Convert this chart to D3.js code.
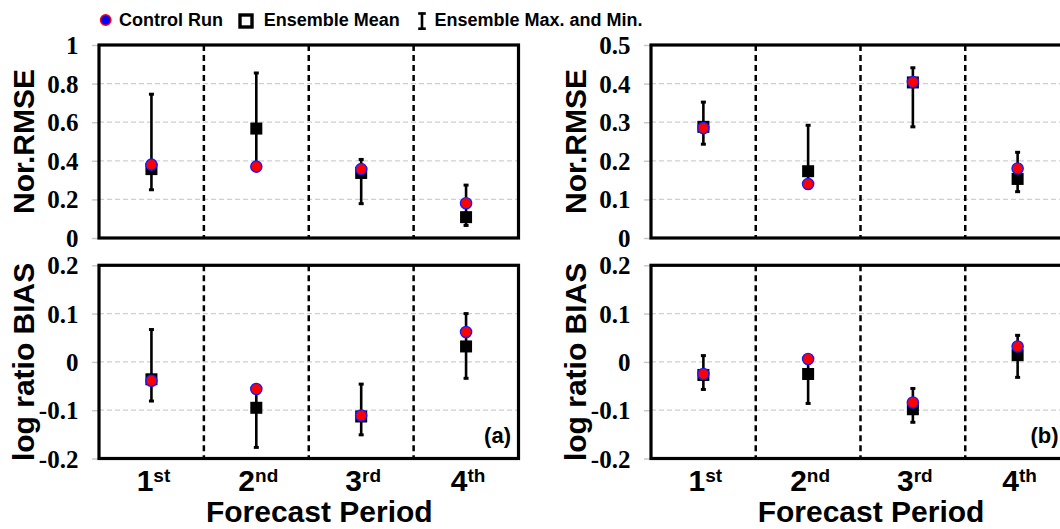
<!DOCTYPE html>
<html>
<head>
<meta charset="utf-8">
<script src="https://cdn.jsdelivr.net/npm/d3@7"></script>
<style>
  html, body { margin: 0; padding: 0; background: #fff; }
  svg { display: block; }
  .sans { font-family: "Liberation Sans", Arial, sans-serif; font-weight: bold; }
  .serif { font-family: "Liberation Serif", "Times New Roman", serif; font-weight: bold; }
</style>
</head>
<body>
<svg id="chart" width="1060" height="529"></svg>
<script>
// Forecast periods (x categories) and their ordinal suffixes
const periods = ["1", "2", "3", "4"];
const suffixes = ["st", "nd", "rd", "th"];

// Y tick labels
const rmseTicksA = [0, 0.2, 0.4, 0.6, 0.8, 1];
const rmseTicksB = [0, 0.1, 0.2, 0.3, 0.4, 0.5];
const biasTicks = [-0.2, -0.1, 0, 0.1, 0.2];

// (a) Normalised RMSE
const rmseA_control = [0.380, 0.370, 0.357, 0.180];
const rmseA_mean    = [0.357, 0.567, 0.337, 0.108];
const rmseA_max     = [0.745, 0.855, 0.407, 0.274];
const rmseA_min     = [0.250, 0.360, 0.178, 0.065];

// (a) log ratio BIAS
const biasA_control = [-0.039, -0.056, -0.111, 0.062];
const biasA_mean    = [-0.036, -0.095, -0.113, 0.032];
const biasA_max     = [0.067, -0.055, -0.046, 0.100];
const biasA_min     = [-0.081, -0.177, -0.151, -0.034];

// (b) Normalised RMSE
const rmseB_control = [0.285, 0.140, 0.404, 0.180];
const rmseB_mean    = [0.288, 0.173, 0.403, 0.153];
const rmseB_max     = [0.352, 0.292, 0.441, 0.222];
const rmseB_min     = [0.243, 0.150, 0.288, 0.120];

// (b) log ratio BIAS
const biasB_control = [-0.025, 0.006, -0.084, 0.032];
const biasB_mean    = [-0.027, -0.025, -0.098, 0.014];
const biasB_max     = [0.013, 0.012, -0.055, 0.055];
const biasB_min     = [-0.057, -0.086, -0.125, -0.032];

const svg = d3.select("#chart");

const cols = [{ left: 99, right: 518.5 }, { left: 651, right: 1070 }];
const rows = [{ top: 45, bottom: 238 }, { top: 265.3, bottom: 458.5 }];

function fmt(d) { return String(d); }

function panel(col, row, domain, ticks, title, control, mean, max, min, tag, tagRight, showX) {
  const x = d3.scaleBand().domain(periods).range([col.left, col.right]).padding(0);
  const y = d3.scaleLinear().domain(domain).range([row.bottom, row.top]);
  const cx = d => x(d) + x.bandwidth() / 2;
  const g = svg.append("g");

  // light dashed gridlines
  g.append("g").selectAll("line").data(ticks.slice(1, -1)).join("line")
    .attr("x1", col.left).attr("x2", col.right)
    .attr("y1", d => y(d)).attr("y2", d => y(d))
    .attr("stroke", "#cfcfcf").attr("stroke-width", 1.2).attr("stroke-dasharray", "5,3");

  // y axis: gray ticks and serif labels
  const ax = g.append("g").attr("transform", `translate(${col.left},0)`)
    .call(d3.axisLeft(y).tickValues(ticks).tickFormat(fmt).tickSize(7).tickPadding(13.6));
  ax.select(".domain").remove();
  ax.selectAll(".tick line").attr("stroke", "#c8c8c8").attr("stroke-width", 1.5);
  ax.selectAll(".tick text").attr("class", "serif").attr("font-size", 25).attr("fill", "#000")
    .attr("dy", "0.34em");

  // dashed dividers between periods
  g.append("g").selectAll("line").data(periods.slice(1)).join("line")
    .attr("x1", d => x(d)).attr("x2", d => x(d))
    .attr("y1", row.top).attr("y2", row.bottom)
    .attr("stroke", "#000").attr("stroke-width", 2.5).attr("stroke-dasharray", "6,4");

  // frame
  g.append("rect").attr("x", col.left).attr("y", row.top)
    .attr("width", col.right - col.left).attr("height", row.bottom - row.top)
    .attr("fill", "none").attr("stroke", "#000").attr("stroke-width", 3.2);

  // ensemble max/min bars
  const bars = g.append("g");
  bars.selectAll("line.bar").data(periods).join("line").attr("class", "bar")
    .attr("x1", cx).attr("x2", cx)
    .attr("y1", (d, i) => y(max[i])).attr("y2", (d, i) => y(min[i]))
    .attr("stroke", "#000").attr("stroke-width", 2.6);
  [max, min].forEach(arr => {
    bars.append("g").selectAll("line").data(periods).join("line")
      .attr("x1", d => cx(d) - 2.5).attr("x2", d => cx(d) + 2.5)
      .attr("y1", (d, i) => y(arr[i])).attr("y2", (d, i) => y(arr[i]))
      .attr("stroke", "#000").attr("stroke-width", 3);
  });

  // ensemble mean squares
  const s = 12;
  g.append("g").selectAll("rect").data(periods).join("rect")
    .attr("x", d => cx(d) - s / 2).attr("y", (d, i) => y(mean[i]) - s / 2)
    .attr("width", s).attr("height", s).attr("fill", "#000");

  // control run circles
  g.append("g").selectAll("circle").data(periods).join("circle")
    .attr("cx", cx).attr("cy", (d, i) => y(control[i])).attr("r", 5.6)
    .attr("fill", "#ff0000").attr("stroke", "#1a1aff").attr("stroke-width", 1.4);

  // y axis title
  svg.append("text").attr("class", "sans").attr("font-size", 30)
    .attr("text-anchor", "middle")
    .attr("transform", `translate(${col.left - 65},${(row.top + row.bottom) / 2}) rotate(-90)`)
    .text(title);

  if (tag) {
    svg.append("text").attr("class", "sans").attr("font-size", 22)
      .attr("text-anchor", "end").attr("x", tagRight).attr("y", row.bottom - 15.5)
      .text(tag);
  }

  if (showX) {
    const lab = svg.append("g").selectAll("text").data(periods).join("text")
      .attr("class", "sans").attr("text-anchor", "middle")
      .attr("x", d => cx(d) + 2).attr("y", 490.5);
    lab.append("tspan").attr("font-size", 30).text(d => d);
    lab.append("tspan").attr("font-size", 19).attr("dy", -8.4)
      .text((d, i) => suffixes[i]);
    svg.append("text").attr("class", "sans").attr("font-size", 30)
      .attr("text-anchor", "middle")
      .attr("x", (col.left + col.right) / 2 + 10.5).attr("y", 521.5)
      .text("Forecast Period");
  }
}

panel(cols[0], rows[0], [0, 1], rmseTicksA, "Nor.RMSE", rmseA_control, rmseA_mean, rmseA_max, rmseA_min, null, 0, false);
panel(cols[0], rows[1], [-0.2, 0.2], biasTicks, "log ratio BIAS", biasA_control, biasA_mean, biasA_max, biasA_min, "(a)", 511, true);
panel(cols[1], rows[0], [0, 0.5], rmseTicksB, "Nor.RMSE", rmseB_control, rmseB_mean, rmseB_max, rmseB_min, null, 0, false);
panel(cols[1], rows[1], [-0.2, 0.2], biasTicks, "log ratio BIAS", biasB_control, biasB_mean, biasB_max, biasB_min, "(b)", 1058.5, true);

// legend
const lg = svg.append("g");
lg.append("circle").attr("cx", 105.7).attr("cy", 20).attr("r", 5.2)
  .attr("fill", "#0000ff").attr("stroke", "#ff0000").attr("stroke-width", 1.4);
lg.append("text").attr("class", "sans").attr("font-size", 18).attr("x", 119).attr("y", 26.4)
  .text("Control Run");
lg.append("rect").attr("x", 240).attr("y", 15).attr("width", 12).attr("height", 12)
  .attr("fill", "#fff").attr("stroke", "#000").attr("stroke-width", 3.4);
lg.append("text").attr("class", "sans").attr("font-size", 18).attr("x", 263.7).attr("y", 26.4)
  .text("Ensemble Mean");
const ic = lg.append("g").attr("stroke", "#000");
ic.append("line").attr("x1", 422).attr("x2", 422).attr("y1", 12.5).attr("y2", 29.5).attr("stroke-width", 2.6);
ic.append("line").attr("x1", 418.2).attr("x2", 425.8).attr("y1", 13.5).attr("y2", 13.5).attr("stroke-width", 2.6);
ic.append("line").attr("x1", 418.2).attr("x2", 425.8).attr("y1", 28.7).attr("y2", 28.7).attr("stroke-width", 2.6);
lg.append("text").attr("class", "sans").attr("font-size", 18).attr("x", 434.4).attr("y", 26.4)
  .text("Ensemble Max. and Min.");
</script>
</body>
</html>
